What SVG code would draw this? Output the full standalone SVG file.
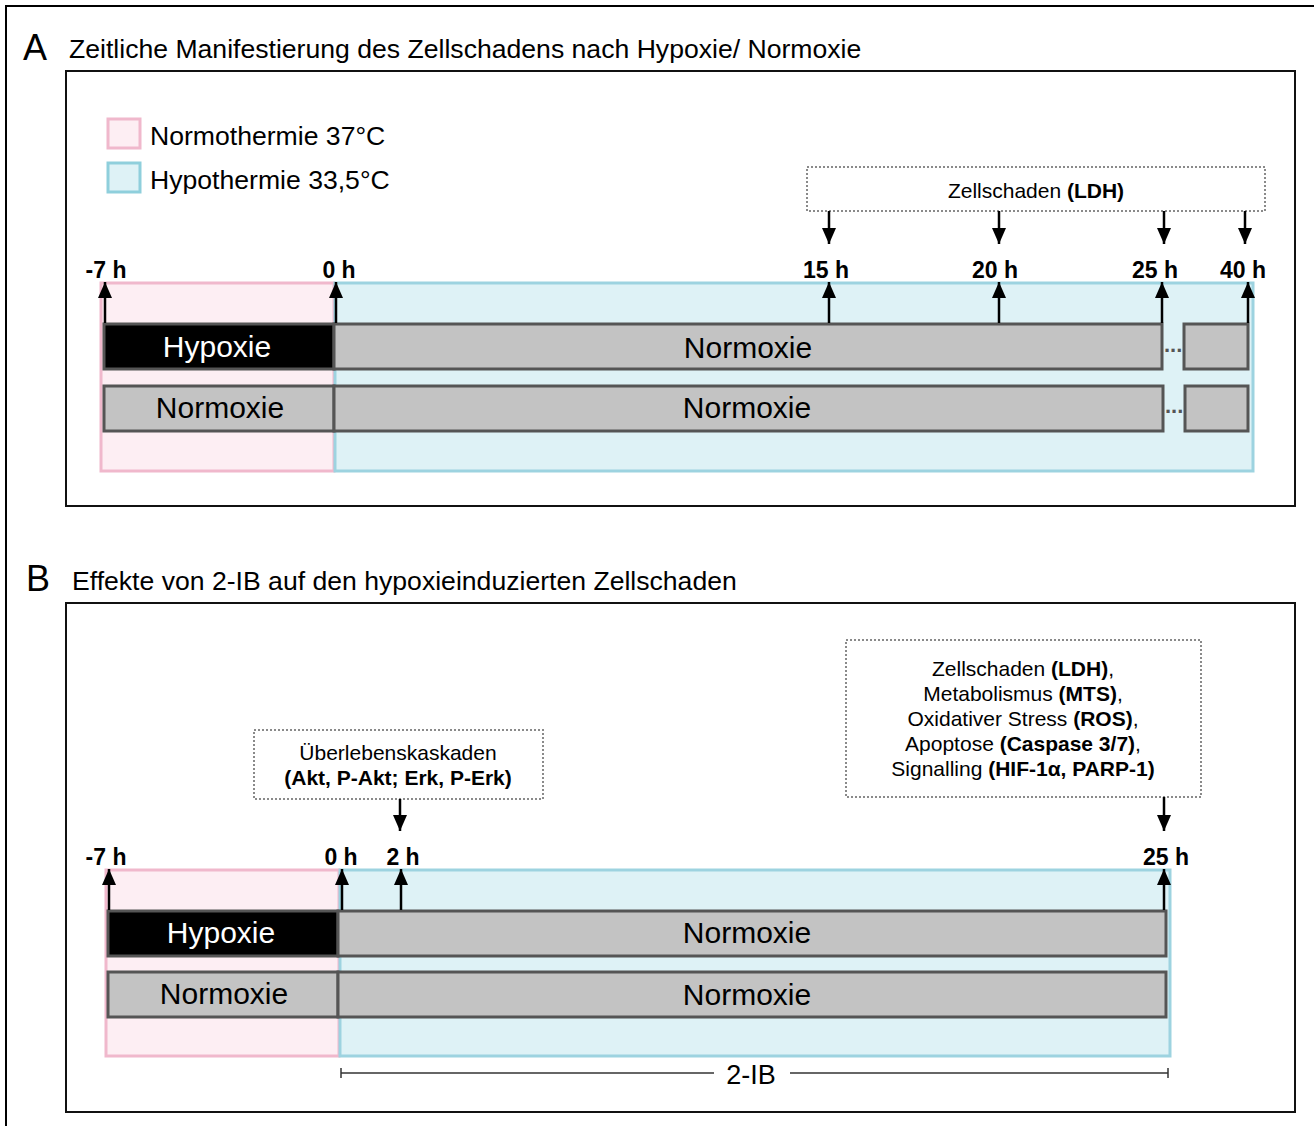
<svg xmlns="http://www.w3.org/2000/svg" width="1314" height="1126" viewBox="0 0 1314 1126">
<defs>
<marker id="tip" viewBox="0 0 16 14" refX="16" refY="7" markerWidth="16" markerHeight="14" markerUnits="userSpaceOnUse" orient="auto">
<path d="M0,0 L16,7 L0,14 Z" fill="#000"/>
</marker>
<style>
text{font-family:"Liberation Sans",Arial,sans-serif;fill:#000}
.frame{fill:none;stroke:#000;stroke-width:2}
.panel{fill:#fff;stroke:#111;stroke-width:2}
.title{font-size:26.6px}
.letter{font-size:36px}
.pink{fill:#fdeef3;stroke:#f0b8cc;stroke-width:3}
.blue{fill:#def2f6;stroke:#9dd3e0;stroke-width:3}
.hyp{fill:#000;stroke:#555;stroke-width:3}
.nor{fill:#c3c3c3;stroke:#555;stroke-width:3}
.bartxt{font-size:30px;text-anchor:middle}
.white{fill:#fff}
.time{font-size:23px;font-weight:bold;text-anchor:middle}
.dot{fill:#fff;stroke:#8a8a8a;stroke-width:2;stroke-dasharray:2 2}
.note{font-size:21px;text-anchor:middle}
.b{font-weight:bold}
.arr{stroke:#000;stroke-width:2.5;fill:none;marker-end:url(#tip)}
.dots{font-size:22px;fill:#555;font-weight:bold}
.leg{font-size:26.6px}
</style>
</defs>
<rect width="1314" height="1126" fill="#fff"/>
<rect class="frame" x="6" y="6" width="1320" height="1130"/>

<!-- Panel A -->
<g id="panelA">
<text class="letter" x="23" y="60">A</text>
<text class="title" x="69" y="58">Zeitliche Manifestierung des Zellschadens nach Hypoxie/ Normoxie</text>
<rect class="panel" x="66" y="71" width="1229" height="435"/>
</g>
<g id="legend">
<rect x="108" y="119" width="32" height="29" fill="#fdeef3" stroke="#f0b8cc" stroke-width="3"/>
<text class="leg" x="150" y="145">Normothermie 37°C</text>
<rect x="108" y="163" width="32" height="29" fill="#def2f6" stroke="#8fcfdc" stroke-width="3"/>
<text class="leg" x="150" y="189">Hypothermie 33,5°C</text>
</g>
<g id="A-bg">
<rect class="pink" x="101" y="283" width="233" height="188"/>
<rect class="blue" x="335" y="283" width="918" height="188"/>
</g>
<g id="A-ldh">
<rect class="dot" x="807" y="167" width="458" height="44"/>
<text class="note" x="1036" y="198">Zellschaden <tspan class="b">(LDH)</tspan></text>
</g>
<g id="A-bars">
<rect class="hyp" x="104" y="324" width="230" height="45"/>
<text class="bartxt white" x="217" y="357">Hypoxie</text>
<rect class="nor" x="334" y="324" width="828" height="45"/>
<text class="bartxt" x="748" y="358">Normoxie</text>
<text class="dots" x="1164" y="352">...</text>
<rect class="nor" x="1184" y="324" width="64" height="45"/>
<rect class="nor" x="104" y="386" width="230" height="45"/>
<text class="bartxt" x="220" y="418">Normoxie</text>
<rect class="nor" x="334" y="386" width="829" height="45"/>
<text class="bartxt" x="747" y="418">Normoxie</text>
<text class="dots" x="1165" y="413">...</text>
<rect class="nor" x="1185" y="386" width="63" height="45"/>
</g>
<g id="A-times">
<text class="time" x="106" y="278">-7 h</text>
<text class="time" x="339" y="278">0 h</text>
<text class="time" x="826" y="278">15 h</text>
<text class="time" x="995" y="278">20 h</text>
<text class="time" x="1155" y="278">25 h</text>
<text class="time" x="1243" y="278">40 h</text>
</g>
<g id="A-connectors">
<line class="arr" x1="829" y1="211" x2="829" y2="244"/>
<line class="arr" x1="999" y1="211" x2="999" y2="244"/>
<line class="arr" x1="1164" y1="211" x2="1164" y2="244"/>
<line class="arr" x1="1245" y1="211" x2="1245" y2="244"/>
<line class="arr" x1="105" y1="323" x2="105" y2="282"/>
<line class="arr" x1="336" y1="323" x2="336" y2="282"/>
<line class="arr" x1="829" y1="323" x2="829" y2="282"/>
<line class="arr" x1="999" y1="323" x2="999" y2="282"/>
<line class="arr" x1="1162" y1="323" x2="1162" y2="282"/>
<line class="arr" x1="1248" y1="323" x2="1248" y2="282"/>
</g>

<!-- Panel B -->
<g id="panelB">
<text class="letter" x="26" y="591">B</text>
<text class="title" x="72" y="590">Effekte von 2-IB auf den hypoxieinduzierten Zellschaden</text>
<rect class="panel" x="66" y="603" width="1229" height="509"/>
</g>
<g id="B-bg">
<rect class="pink" x="106" y="870" width="233" height="186"/>
<rect class="blue" x="340" y="870" width="830" height="186"/>
</g>
<g id="B-surv">
<rect class="dot" x="254" y="730" width="289" height="69"/>
<text class="note" x="398" y="760">Überlebenskaskaden</text>
<text class="note b" x="398" y="785">(Akt, P-Akt; Erk, P-Erk)</text>
</g>
<g id="B-readouts">
<rect class="dot" x="846" y="640" width="355" height="157"/>
<text class="note" x="1023" y="676">Zellschaden <tspan class="b">(LDH)</tspan>,</text>
<text class="note" x="1023" y="701">Metabolismus <tspan class="b">(MTS)</tspan>,</text>
<text class="note" x="1023" y="726">Oxidativer Stress <tspan class="b">(ROS)</tspan>,</text>
<text class="note" x="1023" y="751">Apoptose <tspan class="b">(Caspase 3/7)</tspan>,</text>
<text class="note" x="1023" y="776">Signalling <tspan class="b">(HIF-1α, PARP-1)</tspan></text>
</g>
<g id="B-bars">
<rect class="hyp" x="108" y="911" width="230" height="45"/>
<text class="bartxt white" x="221" y="943">Hypoxie</text>
<rect class="nor" x="338" y="911" width="828" height="45"/>
<text class="bartxt" x="747" y="943">Normoxie</text>
<rect class="nor" x="108" y="972" width="230" height="45"/>
<text class="bartxt" x="224" y="1004">Normoxie</text>
<rect class="nor" x="338" y="972" width="828" height="45"/>
<text class="bartxt" x="747" y="1005">Normoxie</text>
</g>
<g id="B-times">
<text class="time" x="106" y="865">-7 h</text>
<text class="time" x="341" y="865">0 h</text>
<text class="time" x="403" y="865">2 h</text>
<text class="time" x="1166" y="865">25 h</text>
</g>
<g id="B-ib">
<line x1="341" y1="1073" x2="714" y2="1073" stroke="#333" stroke-width="1.5"/>
<line x1="790" y1="1073" x2="1168" y2="1073" stroke="#333" stroke-width="1.5"/>
<line x1="341" y1="1068" x2="341" y2="1078" stroke="#333" stroke-width="1.5"/>
<line x1="1168" y1="1068" x2="1168" y2="1078" stroke="#333" stroke-width="1.5"/>
<text x="751" y="1084" font-size="27" text-anchor="middle">2-IB</text>
</g>
<g id="B-connectors">
<line class="arr" x1="400" y1="799" x2="400" y2="831"/>
<line class="arr" x1="1164" y1="797" x2="1164" y2="831"/>
<line class="arr" x1="109" y1="910" x2="109" y2="869"/>
<line class="arr" x1="342" y1="910" x2="342" y2="869"/>
<line class="arr" x1="401" y1="910" x2="401" y2="869"/>
<line class="arr" x1="1164" y1="910" x2="1164" y2="869"/>
</g>
</svg>
